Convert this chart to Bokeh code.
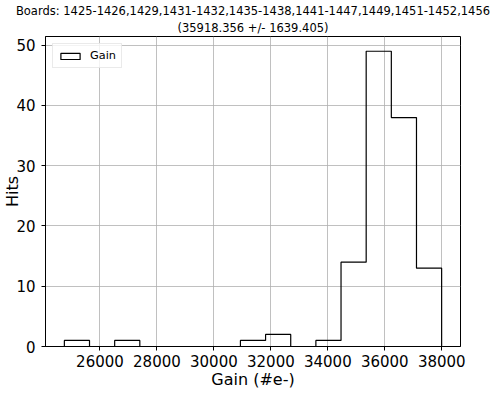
import numpy as np
from bokeh.plotting import figure
from bokeh.models import Range1d, FixedTicker, Title
from bokeh.embed import file_html
from bokeh.resources import INLINE

# ---- data ----
gain_min = 24750.0          # left edge of first bin
gain_max = 37995.0          # right edge of last bin
n_bins = 15
counts = [1, 0, 1, 0, 0, 0, 0, 1, 2, 0, 1, 14, 49, 38, 13]
x_ticks = [26000, 28000, 30000, 32000, 34000, 36000, 38000]
y_ticks = [0, 10, 20, 30, 40, 50]
title_line1 = "Boards: 1425-1426,1429,1431-1432,1435-1438,1441-1447,1449,1451-1452,1456"
title_line2 = "(35918.356 +/- 1639.405)"
x_label = "Gain (#e-)"
y_label = "Hits"
series_name = "Gain"

FONT = "DejaVu Sans"

edges = np.linspace(gain_min, gain_max, n_bins + 1)
xs = np.repeat(edges, 2)
ys = np.concatenate([[0], np.repeat(counts, 2), [0]])

span = edges[-1] - edges[0]
x0, x1 = edges[0] - 0.05 * span, edges[-1] + 0.05 * span
y0, y1 = 0, max(counts) * 1.05

p = figure(width=490, height=395, output_backend="svg", toolbar_location=None,
           x_range=Range1d(x0, x1), y_range=Range1d(y0, y1),
           title=title_line1,
           min_border_left=45, min_border_right=30, min_border_top=36, min_border_bottom=49)
p.background_fill_color = "white"
p.border_fill_color = "white"
p.outline_line_color = "black"
p.outline_line_width = 1

p.title.align = "center"
p.title.text_font = FONT
p.title.text_font_size = "11.5px"
p.title.text_font_style = "normal"
p.title.text_color = "black"
p.title.standoff = 0
p.title.offset = 0
t2 = Title(text=title_line2, align="center", text_font=FONT, text_font_size="11.5px",
           text_font_style="normal", text_color="black", standoff=3)
p.add_layout(t2, "above")

p.patch(xs, ys, fill_alpha=0, line_color="black", line_width=1.2, legend_label=series_name)

# grid
for g in (p.xgrid, p.ygrid):
    g.grid_line_color = "#b0b0b0"
    g.grid_line_width = 0.8
p.xgrid.ticker = FixedTicker(ticks=x_ticks)
p.ygrid.ticker = FixedTicker(ticks=y_ticks)

# axes
p.xaxis.ticker = FixedTicker(ticks=x_ticks)
p.yaxis.ticker = FixedTicker(ticks=y_ticks)
for ax in (p.xaxis[0], p.yaxis[0]):
    ax.axis_line_color = "black"
    ax.major_tick_line_color = "black"
    ax.major_tick_out = 4
    ax.major_tick_in = 0
    ax.minor_tick_line_color = None
    ax.major_label_text_font = FONT
    ax.major_label_text_font_size = "15px"
    ax.major_label_text_color = "black"
    ax.axis_label_text_font = FONT
    ax.axis_label_text_font_size = "16px"
    ax.axis_label_text_font_style = "normal"
    ax.axis_label_text_color = "black"
p.xaxis.axis_label_standoff = 0
p.yaxis.axis_label_standoff = -9
p.xaxis.major_label_standoff = 4
p.yaxis.major_label_standoff = 6
p.xaxis.axis_label = x_label
p.yaxis.axis_label = y_label

# legend
lg = p.legend[0]
lg.location = "top_left"
lg.margin = 7
lg.padding = 5
lg.spacing = 0
lg.glyph_width = 24
lg.glyph_height = 8
lg.label_height = 11
lg.label_standoff = 8
lg.label_text_font = FONT
lg.label_text_font_size = "11.3px"
lg.label_text_color = "black"
lg.border_line_color = "#d6d6d6"
lg.border_line_width = 1
lg.background_fill_color = "white"
lg.background_fill_alpha = 0.8

open("out.html", "w").write(file_html(p, INLINE))
